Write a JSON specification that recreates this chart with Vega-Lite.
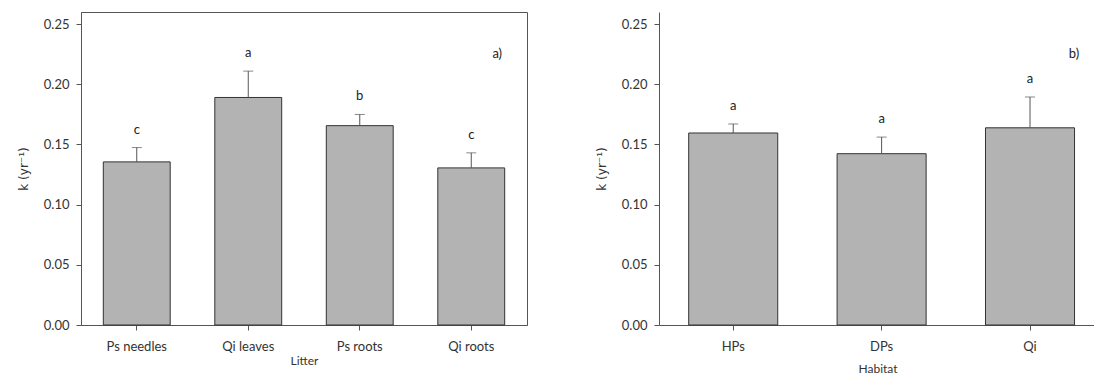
{
  "$schema": "https://vega.github.io/schema/vega-lite/v6.json",
  "padding": {"left": 16, "top": 11, "right": 0, "bottom": 0},
  "background": "white",
  "spacing": 67,
  "datasets": {
    "litter": [
      {"cat": "Ps needles", "k": 0.1355, "upper": 0.1474, "letter": "c"},
      {"cat": "Qi leaves", "k": 0.189, "upper": 0.2109, "letter": "a"},
      {"cat": "Ps roots", "k": 0.1656, "upper": 0.1749, "letter": "b"},
      {"cat": "Qi roots", "k": 0.1305, "upper": 0.143, "letter": "c"}
    ],
    "habitat": [
      {"cat": "HPs", "k": 0.1595, "upper": 0.167, "letter": "a"},
      {"cat": "DPs", "k": 0.1423, "upper": 0.1561, "letter": "a"},
      {"cat": "Qi", "k": 0.1638, "upper": 0.1894, "letter": "a"}
    ],
    "labA": [{"cat": "Qi roots", "y": 0.225, "label": "a)"}],
    "labB": [{"cat": "Qi", "y": 0.2255, "label": "b)"}]
  },
  "config": {
    "font": "Lato",
    "view": {"stroke": "#555", "strokeWidth": 1},
    "axis": {
      "grid": false,
      "domainColor": "#555",
      "tickColor": "#555",
      "tickSize": 5,
      "labelColor": "#333",
      "titleColor": "#333",
      "labelFont": "Lato",
      "titleFont": "Lato",
      "labelFontSize": 13,
      "titleFontSize": 12,
      "titleFontWeight": "normal"
    },
    "axisY": {"labelPadding": 7, "titlePadding": 13, "titleFont": "DejaVu Sans", "titleFontSize": 12},
    "axisX": {"labelPadding": 10, "labelAngle": 0}
  },
  "hconcat": [
    {
      "width": 446,
      "height": 313,
      "layer": [
        {
          "data": {"name": "litter"},
          "mark": {"type": "bar", "fill": "#b3b3b3", "stroke": "#333", "strokeWidth": 1},
          "encoding": {
            "x": {"field": "cat", "type": "nominal", "sort": null, "title": "Litter",
                  "scale": {"paddingInner": 0.4, "paddingOuter": 0.2},
                  "axis": {"titlePadding": 2}},
            "y": {"field": "k", "type": "quantitative", "title": "k  (yr⁻¹)",
                  "scale": {"domain": [0, 0.25]},
                  "axis": {"values": [0, 0.05, 0.1, 0.15, 0.2, 0.25], "format": ".2f"}}
          }
        },
        {
          "data": {"name": "litter"},
          "mark": {"type": "rule", "color": "#555", "strokeWidth": 1},
          "encoding": {
            "x": {"field": "cat", "type": "nominal", "sort": null},
            "y": {"field": "k", "type": "quantitative"},
            "y2": {"field": "upper"}
          }
        },
        {
          "data": {"name": "litter"},
          "mark": {"type": "tick", "color": "#555", "size": 10, "thickness": 1},
          "encoding": {
            "x": {"field": "cat", "type": "nominal", "sort": null},
            "y": {"field": "upper", "type": "quantitative"}
          }
        },
        {
          "data": {"name": "litter"},
          "mark": {"type": "text", "dy": -18, "baseline": "middle", "fontSize": 13, "color": "#222"},
          "encoding": {
            "x": {"field": "cat", "type": "nominal", "sort": null},
            "y": {"field": "upper", "type": "quantitative"},
            "text": {"field": "letter"}
          }
        },
        {
          "data": {"name": "labA"},
          "mark": {"type": "text", "dx": 26, "baseline": "middle", "fontSize": 13, "color": "#222"},
          "encoding": {
            "x": {"field": "cat", "type": "nominal", "sort": null},
            "y": {"field": "y", "type": "quantitative"},
            "text": {"field": "label"}
          }
        }
      ]
    },
    {
      "width": 437,
      "height": 313,
      "view": {"stroke": null},
      "layer": [
        {
          "data": {"name": "habitat"},
          "mark": {"type": "bar", "fill": "#b3b3b3", "stroke": "#333", "strokeWidth": 1},
          "encoding": {
            "x": {"field": "cat", "type": "nominal", "sort": null, "title": "Habitat",
                  "scale": {"paddingInner": 0.4, "paddingOuter": 0.1724, "align": 0.5805},
                  "axis": {"titlePadding": 10}},
            "y": {"field": "k", "type": "quantitative", "title": "k  (yr⁻¹)",
                  "scale": {"domain": [0, 0.25]},
                  "axis": {"values": [0, 0.05, 0.1, 0.15, 0.2, 0.25], "format": ".2f"}}
          }
        },
        {
          "data": {"name": "habitat"},
          "mark": {"type": "rule", "color": "#555", "strokeWidth": 1},
          "encoding": {
            "x": {"field": "cat", "type": "nominal", "sort": null},
            "y": {"field": "k", "type": "quantitative"},
            "y2": {"field": "upper"}
          }
        },
        {
          "data": {"name": "habitat"},
          "mark": {"type": "tick", "color": "#555", "size": 10, "thickness": 1},
          "encoding": {
            "x": {"field": "cat", "type": "nominal", "sort": null},
            "y": {"field": "upper", "type": "quantitative"}
          }
        },
        {
          "data": {"name": "habitat"},
          "mark": {"type": "text", "dy": -18, "baseline": "middle", "fontSize": 13, "color": "#222"},
          "encoding": {
            "x": {"field": "cat", "type": "nominal", "sort": null},
            "y": {"field": "upper", "type": "quantitative"},
            "text": {"field": "letter"}
          }
        },
        {
          "data": {"name": "labB"},
          "mark": {"type": "text", "dx": 44, "baseline": "middle", "fontSize": 13, "color": "#222"},
          "encoding": {
            "x": {"field": "cat", "type": "nominal", "sort": null},
            "y": {"field": "y", "type": "quantitative"},
            "text": {"field": "label"}
          }
        },
        {
          "mark": {"type": "rule", "color": "#555", "strokeWidth": 1},
          "encoding": {
            "y": {"datum": 0.25, "type": "quantitative"}
          }
        }
      ]
    }
  ]
}
